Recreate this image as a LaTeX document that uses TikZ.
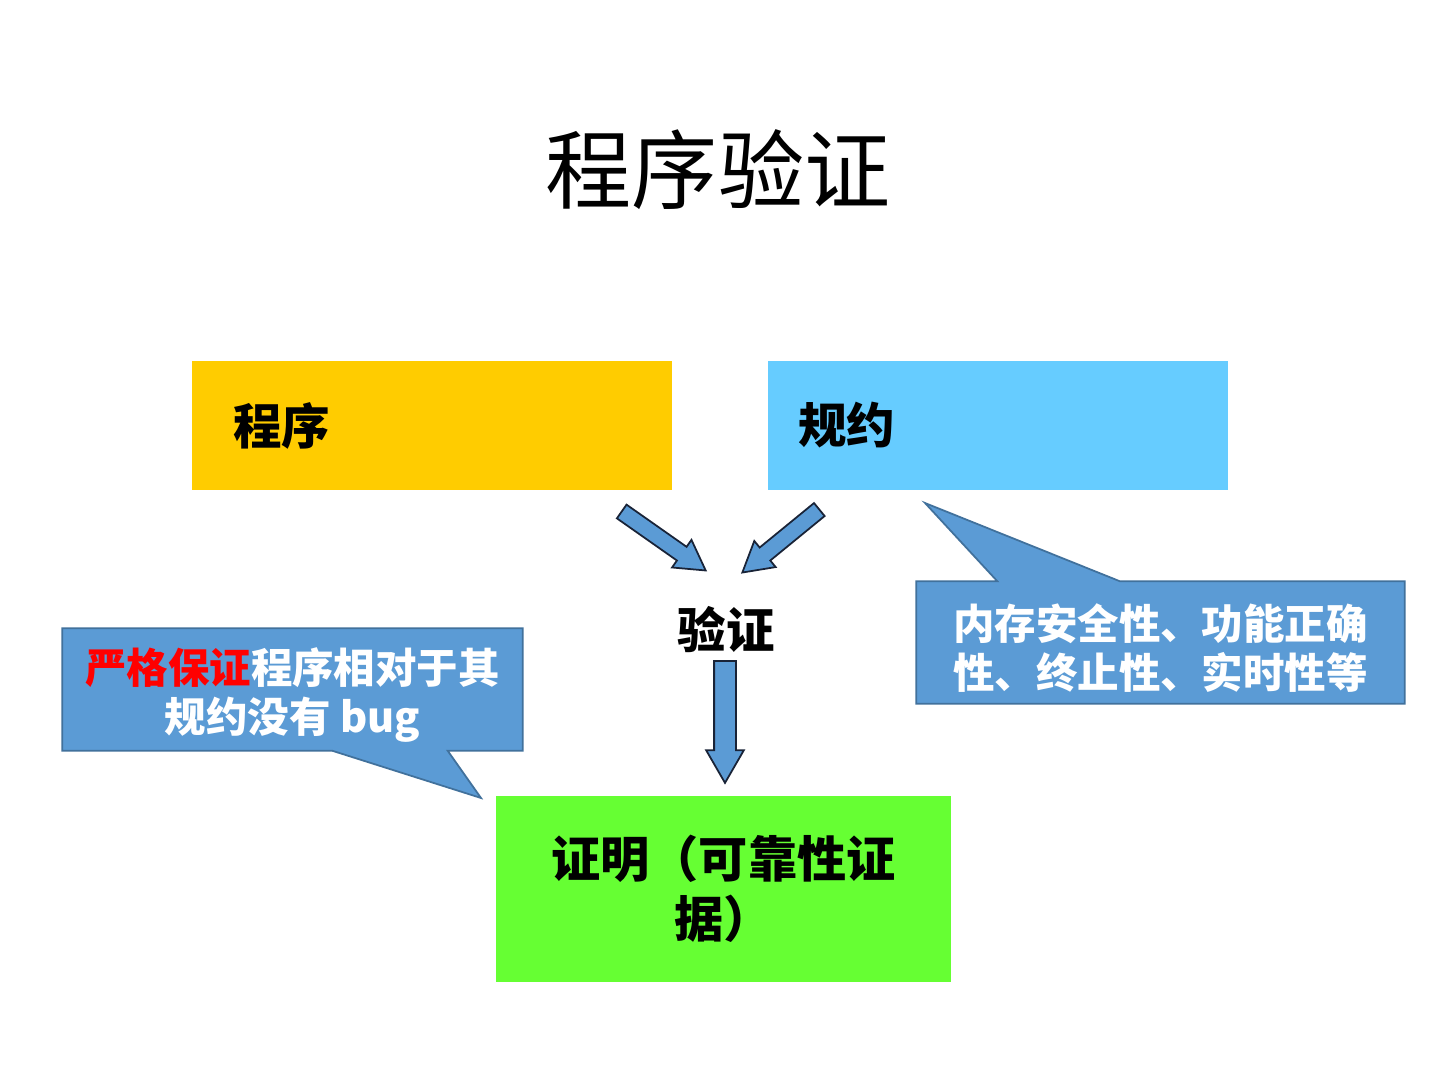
\documentclass[tikz,border=0pt]{standalone}
\usepackage{fontspec}
\usepackage{tikz}
\usepackage{xcolor}
\usetikzlibrary{positioning,shapes.arrows,calc}
\newfontfamily\cjk{Noto Sans CJK SC}
\definecolor{progyellow}{RGB}{255,204,0}
\definecolor{specblue}{RGB}{102,204,255}
\definecolor{proofgreen}{RGB}{102,255,51}
\definecolor{noteblue}{RGB}{91,155,213}
\definecolor{noteedge}{RGB}{65,113,156}
\definecolor{arrline}{RGB}{25,35,55}
\pgfdeclarelayer{bg}
\pgfdeclarelayer{notes}
\pgfsetlayers{bg,notes,main}
\tikzset{
    box/.style={
        rectangle,
        inner ysep=0pt,
        font=\cjk\bfseries\fontsize{13.8}{17}\selectfont
    },
    note/.style={
        rectangle,
        inner sep=0pt
    },
    notetext/.style={
        inner sep=0pt,
        yshift=-0.055cm,
        align=center,
        text=white,
        font=\cjk\bfseries\fontsize{11.8}{13.7}\selectfont
    },
    notebg/.style={fill=noteblue,draw=noteedge,line width=0.5pt},
    barr/.style={
        single arrow,
        fill=noteblue,
        draw=arrline,
        line width=0.5pt,
        inner xsep=0pt,
        single arrow tip angle=60,
        single arrow head indent=0pt
    }
}
% block arrow: name, from, to, half shaft width, head extend
\newcommand{\blockarrow}[5]{%
  \path let \p1=($(#3)-(#2)$) in
    node[barr,inner ysep=#4,single arrow head extend=#5,anchor=tail,
         minimum height={veclen(\x1,\y1)},rotate={atan2(\y1,\x1)}]
    (#1) at (#2) {};
}

\begin{document}
\begin{tikzpicture}
\begin{pgfonlayer}{bg}
\fill[white] (0,0) rectangle (14.4,-10.8);
\end{pgfonlayer}
\useasboundingbox (0,0) rectangle (14.4,-10.8);

\node[font=\cjk\fontsize{24.5}{29}\selectfont] (title) at (7.18,-1.70) {程序验证};

\node[box,fill=progyellow,minimum width=4.80cm,minimum height=1.29cm,
      text width=3.98cm,inner xsep=0.41cm,align=left] (prog) at (4.32,-4.255) {程序};
\node[box,fill=specblue,minimum width=4.60cm,minimum height=1.29cm,
      text width=4.00cm,inner xsep=0.30cm,align=left] (spec) at (9.98,-4.255) {规约};
\node[box] (verif) at (7.26,-6.30) {验证};
\node[box,fill=proofgreen,minimum width=4.55cm,minimum height=1.86cm,align=center,
      font=\cjk\bfseries\fontsize{14}{17}\selectfont] (proof) at (7.235,-8.89) {证明（可靠性证\\据）};

% block arrows
\coordinate (a1s) at (6.21,-5.11);
\coordinate (a1e) at (7.05,-5.70);
\coordinate (a2s) at (8.20,-5.09);
\coordinate (a2e) at (7.43,-5.72);
\coordinate (a3s) at (7.25,-6.60);
\coordinate (a3e) at (7.25,-7.82);
\blockarrow{progarr}{a1s}{a1e}{0.075cm}{0.085cm}
\blockarrow{specarr}{a2s}{a2e}{0.075cm}{0.085cm}
\blockarrow{proofarr}{a3s}{a3e}{0.10cm}{0.08cm}

% callouts
\node[note,minimum width=4.59cm,minimum height=1.21cm,
      label={[notetext]center:\textcolor{red}{严格保证}程序相对于其\\规约没有 bug}] (lnote) at (2.925,-6.895) {};
\coordinate (ltip) at (4.81,-7.98);
\node[note,minimum width=4.87cm,minimum height=1.21cm,
      label={[notetext]center:内存安全性、功能正确\\性、终止性、实时性等}] (rnote) at (11.605,-6.425) {};
\coordinate (rtip) at (9.25,-5.03);
\begin{pgfonlayer}{notes}
\draw[notebg] (lnote.north west) -- (lnote.north east) -- (lnote.south east)
    -- ($(lnote.south west)!0.837!(lnote.south east)$) -- (ltip)
    -- ($(lnote.south west)!0.586!(lnote.south east)$) -- (lnote.south west) -- cycle;
\draw[notebg] (rnote.south west) -- (rnote.north west)
    -- ($(rnote.north west)!0.166!(rnote.north east)$) -- (rtip)
    -- ($(rnote.north west)!0.417!(rnote.north east)$) -- (rnote.north east)
    -- (rnote.south east) -- cycle;
\end{pgfonlayer}
\end{tikzpicture}
\end{document}
